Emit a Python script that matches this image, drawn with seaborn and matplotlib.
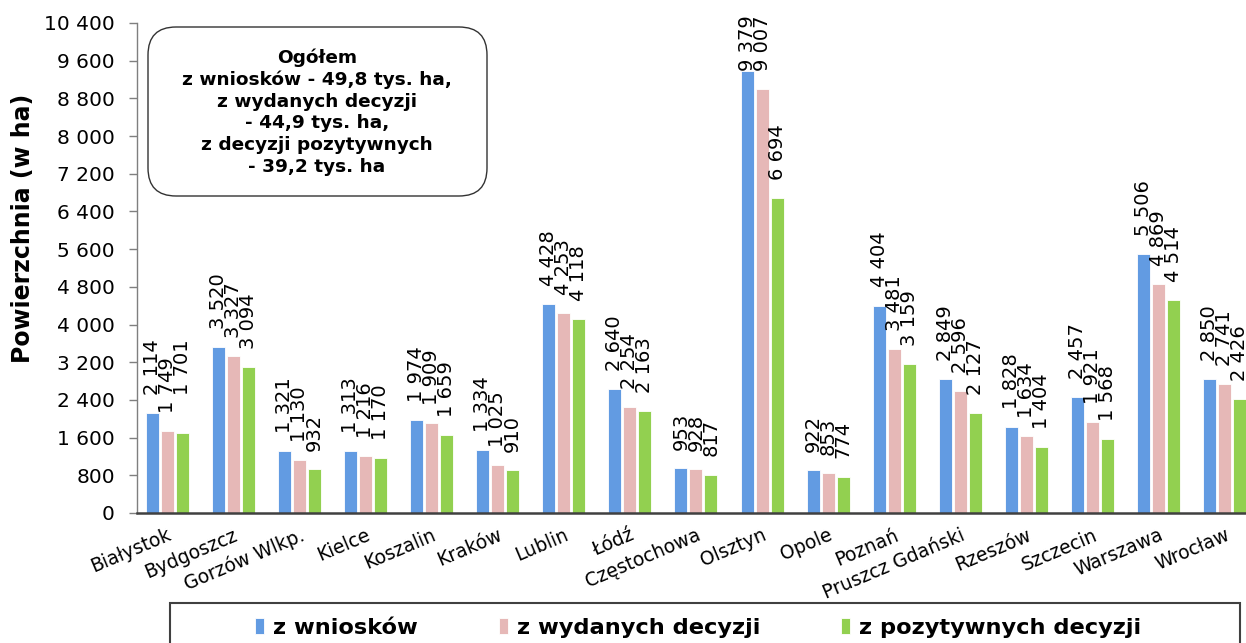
import matplotlib
matplotlib.use("Agg")
import numpy as np
import pandas as pd
import matplotlib.pyplot as plt
import seaborn as sns
from matplotlib.patches import Rectangle, FancyBboxPatch

# Dane (powierzchnia w ha)
miasta = ["Białystok", "Bydgoszcz", "Gorzów Wlkp.", "Kielce", "Koszalin", "Kraków",
          "Lublin", "Łódź", "Częstochowa", "Olsztyn", "Opole", "Poznań",
          "Pruszcz Gdański", "Rzeszów", "Szczecin", "Warszawa", "Wrocław"]
z_wnioskow = [2114, 3520, 1321, 1313, 1974, 1334, 4428, 2640, 953, 9379, 922, 4404,
              2849, 1828, 2457, 5506, 2850]
z_wydanych = [1749, 3327, 1130, 1216, 1909, 1025, 4253, 2254, 928, 9007, 853, 3481,
              2596, 1634, 1921, 4869, 2741]
z_pozytywnych = [1701, 3094, 932, 1170, 1659, 910, 4118, 2163, 817, 6694, 774, 3159,
                 2127, 1404, 1568, 4514, 2426]
serie = ["z wniosków", "z wydanych decyzji", "z pozytywnych decyzji"]
kolory = ["#629be2", "#e6b8b7", "#92d050"]
y_ticks = list(range(0, 10401, 800))
opis = ("Ogółem\nz wniosków - 49,8 tys. ha,\nz wydanych decyzji\n- 44,9 tys. ha,\n"
        "z decyzji pozytywnych\n- 39,2 tys. ha")

def fmt(v):
    return f"{int(v):,}".replace(",", " ")

df = pd.DataFrame({
    "miasto": miasta * 3,
    "wartosc": z_wnioskow + z_wydanych + z_pozytywnych,
    "seria": [s for s in serie for _ in miasta],
})

sns.set_theme(style="white", rc={"text.color": "black", "axes.labelcolor": "black",
                                 "xtick.color": "black", "ytick.color": "black"})
plt.rcParams["font.family"] = ["DejaVu Sans"]

fig = plt.figure(figsize=(12.46, 6.43), dpi=100)
ax = fig.add_axes([137 / 1246, 1 - 513 / 643, 1 - 137 / 1246, 490 / 643])

sns.barplot(data=df, x="miasto", y="wartosc", hue="seria", palette=kolory, saturation=1,
            width=0.68, gap=0.13, errorbar=None, edgecolor="white", linewidth=0.6, ax=ax)

ax.set_ylim(0, 10400)
ax.set_xlim(-0.455, 16.32)

# etykiety wartości nad słupkami
for cont, vals in zip(ax.containers, [z_wnioskow, z_wydanych, z_pozytywnych]):
    anns = ax.bar_label(cont, labels=[fmt(v) for v in vals], rotation=90,
                        padding=13, fontsize=14)
    if vals is z_wnioskow:
        anns[9].xyann = (0, 0)  # Olsztyn - etykieta przy górnej krawędzi
    if vals is z_pozytywnych:
        anns[0].xyann = (0, 27)

ax.set_yticks(y_ticks)
ax.set_yticklabels([fmt(v) for v in y_ticks], fontsize=14.5)
ax.tick_params(axis="y", left=True, length=6, width=1, color="#7f7f7f", pad=10)

ax.set_xticks(range(len(miasta)))
ax.set_xticklabels(miasta, rotation=23, ha="right", rotation_mode="anchor", fontsize=13.5)
ax.tick_params(axis="x", length=0, pad=9)

ax.set_xlabel("")
ax.set_ylabel("Powierzchnia (w ha)", fontsize=17, fontweight="bold")
ax.yaxis.set_label_coords(-0.092, 0.58)

for s in ["top", "right"]:
    ax.spines[s].set_visible(False)
ax.spines["left"].set_color("#7f7f7f")
ax.spines["left"].set_linewidth(1)
ax.spines["bottom"].set_color("#404040")
ax.spines["bottom"].set_linewidth(1.8)

# ramka z podsumowaniem
box = FancyBboxPatch((1.48, 4.47), 3.39, 1.69, boxstyle="round,pad=0,rounding_size=0.28",
                     transform=fig.dpi_scale_trans, fc="white", ec="#333333", lw=1.0)
fig.add_artist(box)
fig.text(317 / 1246, 1 - 112 / 643, opis, ha="center", va="center", fontsize=13.3,
         fontweight="bold", linespacing=1.26)

# legenda
handles, labels = ax.get_legend_handles_labels()
ax.get_legend().remove()
fig.add_artist(Rectangle((170 / 1246, -0.05), 1070 / 1246, 40 / 643 + 0.05,
                         transform=fig.transFigure, fill=False, ec="#404040", lw=1.5))
fig.legend(handles, labels, loc="center", bbox_to_anchor=(698 / 1246, 1 - 628 / 643),
           ncol=3, frameon=False, prop={"weight": "bold", "size": 16.2},
           handlelength=0.4, handleheight=0.75, handletextpad=0.4, columnspacing=3.6)

fig.savefig("out.png", dpi=100)
